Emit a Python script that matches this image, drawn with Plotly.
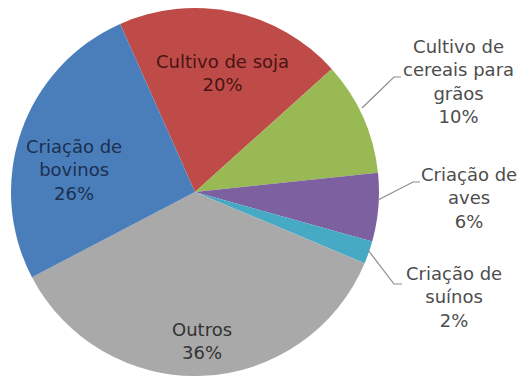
import plotly.graph_objects as go

# Shares of the sector, clockwise from the top
labels = ["Cultivo de soja", "Cultivo de cereais para grãos", "Criação de aves",
          "Criação de suínos", "Outros", "Criação de bovinos"]
values = [20, 10, 6, 2, 36, 26]
# Line-wrapped names as printed on the chart
display_names = ["Cultivo de soja", "Cultivo de<br>cereais para<br>grãos",
                 "Criação de<br>aves", "Criação de<br>suínos", "Outros",
                 "Criação de<br>bovinos"]

slice_colors = ["#BE4B48", "#98B954", "#7D60A0", "#46AAC5", "#A9A9A9", "#4A7EBB"]
text_colors = ["#4a1414", "#4d4d4d", "#4d4d4d", "#4d4d4d", "#333333", "#1c2f4f"]

W, H = 521, 376

# Label centres in pixels (x from left, y from top)
label_pos = [(222, 73), (458, 81), (469, 198), (454, 297), (202, 341), (74, 170)]
# Leader lines for the labels that sit outside the pie
leaders = {
    1: [(362, 108), (394, 77), (401, 77)],
    2: [(378, 200), (413, 182), (420, 182)],
    3: [(368, 250), (394, 284), (402, 284)],
}


def px(x, y):
    return x / W, 1 - y / H


fig = go.Figure(go.Pie(
    labels=labels,
    values=values,
    sort=False,
    direction="clockwise",
    rotation=-24,
    marker=dict(colors=slice_colors, line=dict(width=0)),
    textinfo="none",
    hoverinfo="label+percent",
    domain=dict(x=[11 / W, 379 / W], y=[0, 368 / H]),
    showlegend=False,
))

annotations = []
for i, (name, v) in enumerate(zip(display_names, values)):
    x, y = px(*label_pos[i])
    annotations.append(dict(
        x=x, y=y, xref="paper", yref="paper",
        text=f"{name}<br>{v}%", showarrow=False,
        xanchor="center", yanchor="middle", align="center",
        font=dict(family="DejaVu Sans", size=18, color=text_colors[i]),
    ))

shapes = []
for pts in leaders.values():
    path = "M " + " L ".join(f"{px(a, b)[0]},{px(a, b)[1]}" for a, b in pts)
    shapes.append(dict(type="path", xref="paper", yref="paper", path=path,
                       line=dict(color="#8c8c8c", width=1.2)))

fig.update_layout(
    width=W, height=H,
    margin=dict(l=0, r=0, t=0, b=0),
    paper_bgcolor="white",
    plot_bgcolor="white",
    annotations=annotations,
    shapes=shapes,
)

fig.write_html("out.html")
